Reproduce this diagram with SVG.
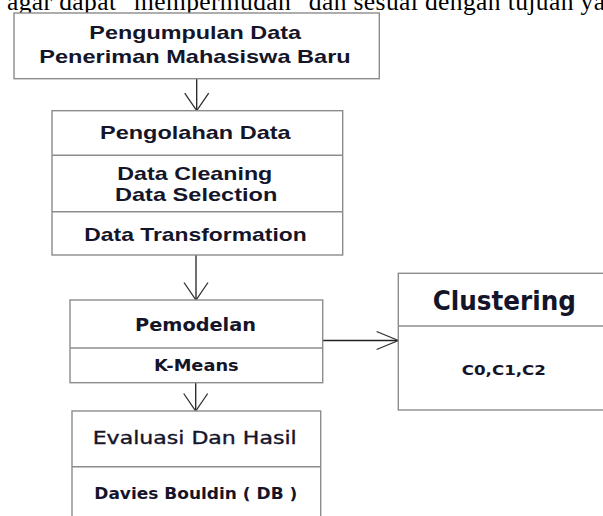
<svg xmlns="http://www.w3.org/2000/svg" width="603" height="516" viewBox="0 0 603 516">
<style>
.box{fill:#ffffff;stroke:#8c8c8c;stroke-width:1.4}
.div{stroke:#8c8c8c;stroke-width:1.4;fill:none}
.ar{font-family:"Liberation Sans",Arial,sans-serif;font-weight:bold;font-size:18.6px;fill:#15152a}
.tb{font-family:"DejaVu Sans",Verdana,sans-serif;font-weight:bold;fill:#15152a}
.tr{font-family:"DejaVu Sans",Verdana,sans-serif;font-weight:normal;fill:#15152a;stroke:#15152a;stroke-width:0.35}
.top{font-family:"Liberation Serif","Times New Roman",serif;font-size:25.5px;fill:#000}
.con{stroke:#222;stroke-width:1.3;fill:none}
</style>
<defs>
<marker id="av" markerUnits="userSpaceOnUse" markerWidth="20" markerHeight="28" viewBox="0 0 20 28" refX="17.5" refY="13" orient="auto" overflow="visible">
<path d="M0,1 L17.5,13 L0,25" fill="none" stroke="#333" stroke-width="1.3"/>
</marker>
<marker id="ah" markerUnits="userSpaceOnUse" markerWidth="24" markerHeight="22" viewBox="0 0 24 22" refX="21.7" refY="11" orient="auto" overflow="visible">
<path d="M0,2 L21.7,11 L0,20" fill="none" stroke="#333" stroke-width="1.3"/>
</marker>
</defs>

<text class="top" x="7" y="9.5" textLength="598" lengthAdjust="spacing">agar dapat "mempermudah" dan sesuai dengan tujuan ya</text>

<g id="connectors">
<line class="con" x1="196.7" y1="78.7" x2="196.7" y2="110.7" marker-end="url(#av)"/>
<line class="con" x1="196" y1="255" x2="196" y2="300" marker-end="url(#av)"/>
<line class="con" x1="195.7" y1="382.7" x2="195.7" y2="411" marker-end="url(#av)"/>
<line class="con" x1="322.7" y1="340.5" x2="398.3" y2="340.5" marker-end="url(#ah)"/>
</g>

<g id="pengumpulan">
<rect class="box" x="14" y="13" width="365.3" height="65.7"/>
<text class="ar" x="89.3" y="39.3" textLength="211.7" lengthAdjust="spacingAndGlyphs">Pengumpulan Data</text>
<text class="ar" x="39.3" y="63.3" textLength="311.4" lengthAdjust="spacingAndGlyphs">Peneriman Mahasiswa Baru</text>
</g>

<g id="pengolahan">
<rect class="box" x="52" y="110.7" width="290.7" height="144.3"/>
<line class="div" x1="52" y1="155.3" x2="342.7" y2="155.3"/>
<line class="div" x1="52" y1="211.7" x2="342.7" y2="211.7"/>
<text class="ar" x="100" y="139.3" textLength="190.7" lengthAdjust="spacingAndGlyphs">Pengolahan Data</text>
<text class="ar" x="117.3" y="180" textLength="155" lengthAdjust="spacingAndGlyphs">Data Cleaning</text>
<text class="ar" x="115" y="200.7" textLength="162.3" lengthAdjust="spacingAndGlyphs">Data Selection</text>
<text class="ar" x="84.3" y="241" textLength="222.4" lengthAdjust="spacingAndGlyphs">Data Transformation</text>
</g>

<g id="pemodelan">
<rect class="box" x="70" y="300" width="252.7" height="82.7"/>
<line class="div" x1="70" y1="348" x2="322.7" y2="348"/>
<text class="tb" x="135" y="331" font-size="17.4" textLength="121" lengthAdjust="spacingAndGlyphs">Pemodelan</text>
<text class="tb" x="154" y="370.7" font-size="15.5" textLength="84.7" lengthAdjust="spacingAndGlyphs">K-Means</text>
</g>

<g id="evaluasi">
<rect class="box" x="72" y="411" width="248.7" height="130"/>
<line class="div" x1="72" y1="466.7" x2="320.7" y2="466.7"/>
<text class="tr" x="92.7" y="444.3" font-size="17.4" textLength="204" lengthAdjust="spacingAndGlyphs">Evaluasi Dan Hasil</text>
<text class="tb" x="94.3" y="499.3" font-size="15" textLength="203" lengthAdjust="spacingAndGlyphs">Davies Bouldin ( DB )</text>
</g>

<g id="clustering">
<rect class="box" x="398.3" y="273.3" width="230" height="136.7"/>
<line class="div" x1="398.3" y1="326" x2="628" y2="326"/>
<text class="tb" x="432.7" y="310" font-size="26" textLength="143.3" lengthAdjust="spacingAndGlyphs">Clustering</text>
<text class="tb" x="461.7" y="375" font-size="13.7" textLength="84.3" lengthAdjust="spacingAndGlyphs">C0,C1,C2</text>
</g>
</svg>
